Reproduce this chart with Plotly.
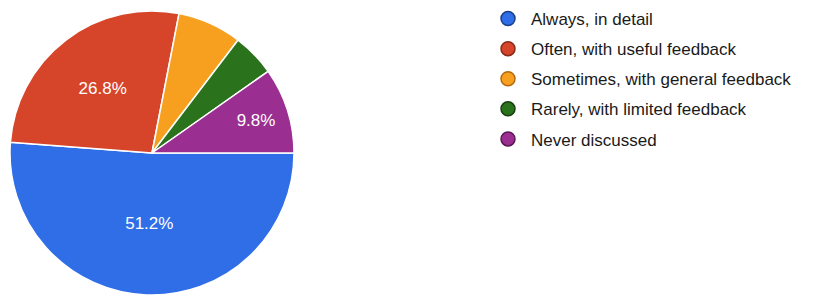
import plotly.graph_objects as go

categories = [
    "Always, in detail",
    "Often, with useful feedback",
    "Sometimes, with general feedback",
    "Rarely, with limited feedback",
    "Never discussed",
]
responses = [21, 11, 3, 2, 4]
colors = ["#2f6ee6", "#d6452a", "#f7a01f", "#2a721b", "#9a2f91"]
edge_colors = ["#1a3f8a", "#8a2a18", "#b46a10", "#173f10", "#5a1855"]

total = sum(responses)
texttemplates = ["%{percent:.1%}" if v / total >= 0.08 else "" for v in responses]

fig = go.Figure()
fig.add_trace(go.Pie(
    labels=categories,
    values=responses,
    sort=False,
    direction="clockwise",
    rotation=90,
    marker=dict(colors=colors, line=dict(color="#ffffff", width=1.5)),
    texttemplate=texttemplates,
    textposition="inside",
    insidetextorientation="horizontal",
    textfont=dict(family="Liberation Sans, Arial, sans-serif", size=17, color="#ffffff"),
    domain=dict(x=[0, 284 / 816], y=[0, 1]),
    showlegend=False,
    hoverinfo="label+percent",
))

for i, (cat, col, ec) in enumerate(zip(categories, colors, edge_colors)):
    fig.add_trace(go.Scatter(
        x=[None], y=[None], mode="markers", name=cat,
        legendgroup=f"g{i}",
        marker=dict(color=col, size=14, line=dict(color=ec, width=1.5)),
        showlegend=True,
    ))

fig.update_layout(
    width=826, height=295,
    margin=dict(l=10, r=0, t=11, b=0),
    paper_bgcolor="#ffffff",
    plot_bgcolor="#ffffff",
    xaxis=dict(visible=False),
    yaxis=dict(visible=False),
    legend=dict(
        x=475 / 816, xanchor="left",
        y=1 + 10 / 284, yanchor="top",
        font=dict(family="Liberation Sans, Arial, sans-serif", size=17, color="#1a1a1a"),
        tracegroupgap=5,
        traceorder="grouped",
        itemwidth=36,
        maxheight=400,
        bgcolor="rgba(0,0,0,0)",
    ),
)

fig.write_html(
    "out.html",
    config={"displayModeBar": False},
    post_script="document.body.style.margin='0';document.body.style.overflow='hidden';",
)
